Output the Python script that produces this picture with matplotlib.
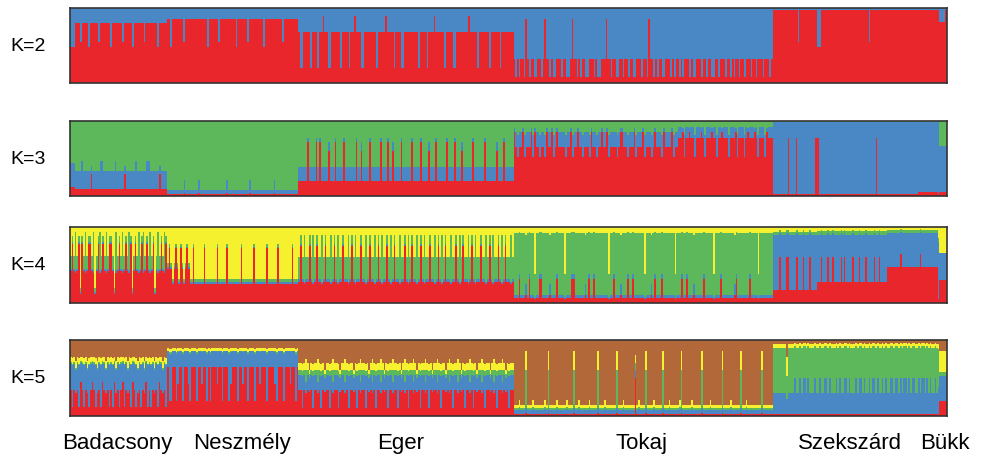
import matplotlib
matplotlib.use('Agg')
import matplotlib.pyplot as plt
import numpy as np

plt.rcParams['font.family'] = ['Liberation Sans', 'DejaVu Sans']

# populations and block widths (individuals)
pops = ['Badacsony', 'Neszmély', 'Eger', 'Tokaj', 'Szekszárd', 'Bükk']
pop_sizes = [97, 131, 215, 259, 165, 9]

red, blue, green, yellow, brown = '#e8262b', '#4a87c5', '#5cb85b', '#f5f12e', '#b3683a'

# K=2  (red, blue)
k2_types = {
    'a': (.80, .20), 'b': (.48, .52), 'k': (.55, .45), 'c': (.85, .15),
    'd': (.68, .32), 'e': (.20, .80), 'f': (.90, .10), 'g': (.08, .92),
    'h': (.32, .68), 'i': (.85, .15), 'j': (.98, .02), 'l': (.82, .18),
}
k2_patterns = [
    "bbbaaakaaaabaaaaakaaaaaabaaaaaakaaaaabaaaaaakaaaaaaabaaaaa",
    "ccbccccccckccccccccccccccbcccccckccccccccccbcccccckcccccccccbccccccccccckccccccccc",
    "deeddddedddeddfddeedddddeddddeddfdddeedddddddeddddfddddedddeeddddddddeddddedddfdddddeddddeedddddddfddddeddddddedddddeddddddd",
    "hghghhgihghhgghhghihhghgghhhghhgghihhghghhgghhhghgghhhihhghhgghhghhghhgghhhghhgihhghghhgghhhghghhghghhhghgghhhghhghhgghhghhhghhghghhghhghhhghhghhhghhhgh",
    "jjjjjjjjjjjjjjjkjjjjjjjjjjjbbjjjjjjjjjjjjjjjjjjjjjjjjjjjjjkjjjjjjjjjjjjjjjjjjjjjjjjjjjjjjjjjjjjjjjjj",
    "jllllj",
]

# K=3  (red, blue, green)
k3_types = {
    'a': (.10, .24, .66), 'b': (.10, .37, .53), 'c': (.30, .10, .60), 'q': (.12, .32, .56),
    'd': (.03, .05, .92), 'e': (.04, .18, .78),
    'f': (.20, .19, .61), 'g': (.72, .05, .23), 'h': (.60, .12, .28),
    'i': (.65, .20, .15), 'j': (.86, .05, .09), 'k': (.52, .30, .18), 'l': (.78, .14, .08),
    'm': (.03, .96, .01), 'n': (.78, .21, .01), 'o': (.06, .93, .01), 'p': (.05, .62, .33),
}
k3_patterns = [
    "qqqaaaabaaaaacaaaaabbaaaaaaabaaaaacaaaaaabaaaaaabbaaaaaacaaaa",
    "ddddddddddeddddddddeddddddddddddddddedddddddddddddeddddddddddddddedddddddddddddd",
    "fffffgffffgfgffffhfffgffffgffffffgffhffffgfffffgfffgffhffffgfffffgffffgffffhfffgfffffgffffgfffhfffffgffffffgffffffhfffgfffff",
    "jikiijkiiijkjiikiikjiijkijiiiikiijkiijiikiiikjiikiijiijkiiiikijjiikiiijkiiijkiiikijiiikjiiiijkiilljklljllkllljlkllljllklljlllkllljklllkljllljlklllkjlll",
    "mmmmmmmmmnmmmmnmmmmmmmmmmmnnmmmmmmmmmmmmmmmmmmmmmmmmmmmmmmmmmmmnmmmmmmmmmmmmmmmmmmmmmmmmmoooooooooooo",
    "mppppp",
]

# K=4  (red, blue, green, yellow)
k4_types = {
    'a': (.42, .03, .17, .38), 'b': (.78, .02, .08, .12), 'c': (.40, .03, .50, .07), 'd': (.12, .02, .06, .80),
    'e': (.25, .02, .05, .68), 'f': (.72, .02, .04, .22), 'g': (.45, .02, .05, .48),
    'h': (.28, .03, .30, .39), 'i': (.75, .03, .12, .10), 'j': (.25, .03, .62, .10),
    'k': (.07, .03, .82, .08), 'l': (.32, .06, .55, .07), 'm': (.10, .15, .65, .10), 'n': (.05, .03, .30, .62),
    'o': (.17, .72, .05, .06), 'p': (.60, .32, .04, .04), 'q': (.28, .62, .05, .05),
    'r': (.48, .44, .04, .04), 's': (.64, .30, .03, .03),
    't': (.30, .36, .00, .34), 'u': (.05, .75, .05, .15),
}
k4_patterns = [
    "abacabdbacabbacdabcabacabbadcabacabacbdabacabcabacabdacabacb",
    "gfgegfgefgegfgeefeeeeeefeeeeeeefeeeeefeeeeeeeefeeeeeeefeeeeeeefeeeeeefeeeeeeeefeee",
    "hihjhhihjhihhjhihhjhihjhhihhjhihjhhihhjhihhjhihjhhihjhihhjhhihjhihhjhihjhhihhjhihjhihhjhhihjhihhjhihjhhihhjhihjhhihjhihhjh",
    "kkklkkkmklkknkkllkkkkmkkklkkkknkkkllkkkkkkmklkklkkkkkkkknkklkkkmkkklkklkkkkkknkkkmklkkklkkkkkkknkkklkklkkkmkkkkklkkkkknkkklkkkkkkkmlkkkkkkklkkkknkkkkkkkk",
    "oooopoooppoooopooopooopooooqqpqqqpqqpqqqqpqpqqqqpqqqpqqqpqqqqpqqpqqqqrrrrrrrrsrrrrrrrrrrrsrrrrrrrrrr",
    "uttttt",
]

# K=5  (red, blue, green, yellow, brown)
k5_types = {
    'a': (.34, .35, .02, .07, .22), 'b': (.12, .55, .02, .07, .24), 'c': (.30, .30, .03, .10, .27), 'd': (.45, .25, .02, .05, .23),
    'e': (.65, .20, .01, .03, .11), 'f': (.20, .62, .02, .04, .12), 'g': (.42, .42, .01, .04, .11),
    'h': (.34, .20, .07, .09, .30), 'i': (.10, .42, .07, .10, .31), 'j': (.30, .15, .15, .15, .25), 'k': (.32, .18, .05, .05, .40),
    'l': (.03, .05, .03, .04, .85), 'm': (.03, .06, .03, .09, .79), 'n': (.04, .06, .50, .25, .15), 'o': (.50, .10, .10, .10, .20),
    'p': (.02, .28, .60, .05, .05), 'q': (.02, .48, .42, .04, .04), 'r': (.02, .20, .30, .25, .23),
    's': (.20, .33, .05, .27, .15), 't': (.03, .35, .50, .07, .05),
}
k5_patterns = [
    "abacabdabacbadabcabdacababdcabadbacabdabcabacdbabacabdacab",
    "effeefgeefeegfeeefeegeefefeeegeefeeefgeeefeegeefeeefeegeeefeeeegfeeefeeegeefe",
    "hhihjhkhihhjhihkhhihjhhikhhjhihhkhihjhhihkhjhihhjhkhihhjhhihkhjhihhjhkhihhjhihkhhjhihhkhjhihhjhkhihhjhihkhhjhihhkhjhihhjhkhihh",
    "lllmlllnlllmllllllmlnllllmlllllmlllnllmlllllmllllnlllmllllllnlllmllllllolmlllnllllmllllnlllmlllllmnlllllmlllllnllllmllllllnllllmlllllnllmllllllllnllllll",
    "pppppppprppppqppqpqqpqpppqppqppqqpqpppqpqppqqpqpppqpqqpqppqpqqpqppqpqppqqpqqpqpqqpqpqqppqpqqpqpqppqp",
    "tsssss",
]

# where the population names sit (pixel x of text centre)
label_x = [117, 242, 401, 641, 850, 945]

panels = [
    ('K=2', k2_types, k2_patterns, [red, blue]),
    ('K=3', k3_types, k3_patterns, [red, blue, green]),
    ('K=4', k4_types, k4_patterns, [red, blue, green, yellow]),
    ('K=5', k5_types, k5_patterns, [red, blue, green, yellow, brown]),
]

W, H = 982, 460
fig = plt.figure(figsize=(W / 100, H / 100), dpi=100)
panel_y = [(9, 84), (122, 197), (228, 304), (341, 417)]  # pixel top/bottom
total = sum(pop_sizes)

for (label, types, patterns, colors), (top, bot) in zip(panels, panel_y):
    ax = fig.add_axes([70 / W, 1 - bot / H, 877 / W, (bot - top) / H])
    lefts, widths, comps = [], [], []
    x0 = 0
    for size, pat in zip(pop_sizes, patterns):
        w = size / len(pat)
        for j, ch in enumerate(pat):
            v = np.array(types[ch], dtype=float)
            lefts.append(x0 + j * w)
            widths.append(w)
            comps.append(v / v.sum())
        x0 += size
    comps = np.array(comps)
    bottom = np.zeros(len(lefts))
    for c, col in enumerate(colors):
        ax.bar(lefts, comps[:, c], width=widths, bottom=bottom, align='edge',
               color=col, linewidth=0, antialiased=False)
        bottom += comps[:, c]
    ax.set_xlim(0, total)
    ax.set_ylim(0, 1)
    ax.set_yticks([])
    ax.set_xticks([])
    for s in ax.spines.values():
        s.set_color('#333333')
        s.set_linewidth(1.2)
    fig.text(28 / W, 1 - (top + bot) / 2 / H, label, ha='center', va='center', fontsize=14)

for name, x in zip(pops, label_x):
    fig.text(x / W, 1 - 444 / H, name, ha='center', va='center', fontsize=16)

fig.savefig('out.png', dpi=100)
